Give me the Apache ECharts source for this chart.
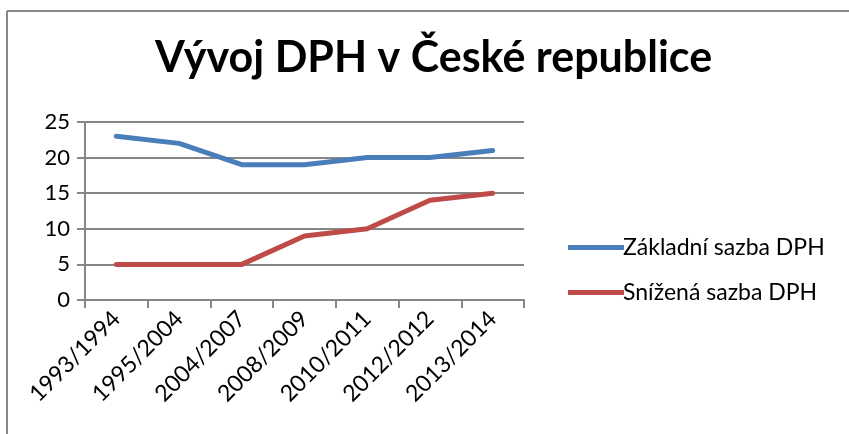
<!DOCTYPE html>
<html>
<head>
<meta charset="utf-8">
<script src="https://cdn.jsdelivr.net/npm/echarts@6/dist/echarts.min.js"></script>
<style>
    html, body { margin: 0; padding: 0; background: #fff; }
    #chart { width: 849px; height: 434px; }
</style>
</head>
<body>
<div id="chart"></div>
<script type="text/javascript">
    var categories = ['1993/1994', '1995/2004', '2004/2007', '2008/2009', '2010/2011', '2012/2012', '2013/2014'];
    var zakladni = [23, 22, 19, 19, 20, 20, 21];
    var snizena = [5, 5, 5, 9, 10, 14, 15];
    var seriesNames = ['Základní sazba DPH', 'Snížená sazba DPH'];

    var fontName = 'Lato, "Open Sans", sans-serif';
    var myChart = echarts.init(document.getElementById('chart'));

    var option = {
        animation: false,
        color: ['#4A7EBB', '#BE4B48'],
        title: {
            text: 'Vývoj DPH v České republice',
            left: 150,
            top: 32,
            textStyle: { fontFamily: fontName, fontWeight: 'bold', fontSize: 43, color: '#000' }
        },
        // chart frame, only top and left visible like in the source
        graphic: [
            { type: 'line', shape: { x1: 7, y1: 11, x2: 849, y2: 11 }, style: { stroke: '#888', lineWidth: 2 } },
            { type: 'line', shape: { x1: 7, y1: 11, x2: 7, y2: 434 }, style: { stroke: '#888', lineWidth: 2 } }
        ],
        legend: {
            orient: 'vertical',
            left: 563,
            top: 231,
            itemWidth: 56,
            itemHeight: 5,
            itemGap: 22,
            icon: 'rect',
            data: seriesNames,
            textStyle: { fontFamily: fontName, fontSize: 23, color: '#000', padding: [0, 0, 0, -6] }
        },
        grid: {
            left: 85,
            right: 325,
            top: 122,
            bottom: 134
        },
        xAxis: {
            type: 'category',
            data: categories,
            boundaryGap: true,
            axisLine: { lineStyle: { color: '#868686', width: 2 } },
            axisTick: { show: true, length: 8, lineStyle: { color: '#868686', width: 2 } },
            axisLabel: { rotate: 45, margin: 15, fontFamily: fontName, fontSize: 23, color: '#000' }
        },
        yAxis: {
            type: 'value',
            min: 0,
            max: 25,
            interval: 5,
            axisLine: { show: true, lineStyle: { color: '#868686', width: 2 } },
            axisTick: { show: true, length: 8, lineStyle: { color: '#868686', width: 2 } },
            splitLine: { lineStyle: { color: '#868686', width: 2 } },
            axisLabel: { margin: 15, fontFamily: fontName, fontSize: 22, color: '#000' }
        },
        series: [
            {
                name: seriesNames[0],
                type: 'line',
                data: zakladni,
                showSymbol: false,
                lineStyle: { width: 5, cap: 'round', join: 'round' }
            },
            {
                name: seriesNames[1],
                type: 'line',
                data: snizena,
                showSymbol: false,
                lineStyle: { width: 5, cap: 'round', join: 'round' }
            }
        ]
    };
    myChart.setOption(option);
</script>
</body>
</html>
